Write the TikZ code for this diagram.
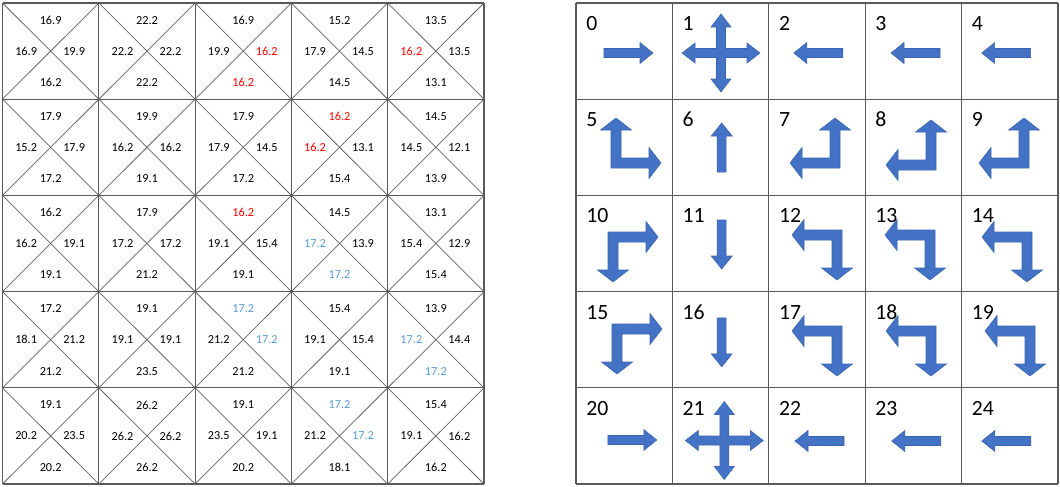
\documentclass[tikz,border=0pt]{standalone}
\usepackage{fontspec}
\setmainfont{Carlito}
\definecolor{arrfill}{HTML}{4472C4}
\definecolor{arrline}{HTML}{3A64B0}
\definecolor{lblue}{HTML}{5B9BD5}
\definecolor{gridc}{RGB}{90,90,90}
\definecolor{diagc}{RGB}{100,100,100}
\newcommand\rd[1]{\textcolor{red}{#1}}
\newcommand\bl[1]{\textcolor{lblue}{#1}}
\newcommand\bp[2]{({\bOx+(#1)*(\bax)+(#2)*(\bbx)},{\bOy+(#1)*(\bay)+(#2)*(\bby)})}
\newcommand\bentarr[6]{%
 \def\bOx{#1}\def\bOy{#2}\def\bax{#3}\def\bay{#4}\def\bbx{#5}\def\bby{#6}%
 \filldraw[arr] \bp{0}{0} -- \bp{38}{0} -- \bp{38}{-10.5} -- \bp{50}{5} -- \bp{38}{20.5} -- \bp{38}{10} -- \bp{10}{10} -- \bp{10}{38} -- \bp{20.5}{38} -- \bp{5}{50} -- \bp{-10.5}{38} -- \bp{0}{38} -- cycle;}
\newcommand\cv[6]{%
 \node[val] (t#1#2) at ({2.5+96.3*#2+48.15},{3+96.2*#1+48.1-31}) {#3};
 \node[val] (l#1#2) at ({2.5+96.3*#2+48.15-24.5},{3+96.2*#1+48.1}) {#4};
 \node[val] (r#1#2) at ({2.5+96.3*#2+48.15+23.5},{3+96.2*#1+48.1}) {#5};
 \node[val] (b#1#2) at ({2.5+96.3*#2+48.15},{3+96.2*#1+48.1+31.5}) {#6};}
\tikzset{
 arr/.style={fill=arrfill,draw=arrline,line width=0.4pt,line join=miter},
 gridl/.style={draw=gridc,line width=0.9pt},
 diag/.style={draw=diagc,line width=0.55pt},
 val/.style={inner sep=0pt,font=\fontsize{9.2}{11}\selectfont},
 lbl/.style={inner sep=0pt,anchor=base west,font=\fontsize{16.3}{18}\selectfont},
 sarrow/.pic={\filldraw[arr] (-24.5,-4.5) -- (11.5,-4.5) -- (11.5,-10.5) -- (24.5,0) -- (11.5,10.5) -- (11.5,4.5) -- (-24.5,4.5) -- cycle;},
 xarrow/.pic={\filldraw[arr] (4.5,4.5) -- (26,4.5) -- (26,10) -- (39,0) -- (26,-10) -- (26,-4.5) -- (4.5,-4.5) -- (4.5,-26) -- (10,-26) -- (0,-39) -- (-10,-26) -- (-4.5,-26) -- (-4.5,-4.5) -- (-26,-4.5) -- (-26,-10) -- (-39,0) -- (-26,10) -- (-26,4.5) -- (-4.5,4.5) -- (-4.5,26) -- (-10,26) -- (0,39) -- (10,26) -- (4.5,26) -- cycle;}
}
\begin{document}
\begin{tikzpicture}[x=0.75pt,y=-0.75pt]
\useasboundingbox (0,0) rectangle (1060,486);
\fill[white] (0,0) rectangle (1060,486);
% ---- left grid ----
\foreach \i in {0,...,4} \foreach \j in {0,...,4} {
 \draw[diag] ({2.5+96.3*\i},{3+96.2*\j}) -- ({2.5+96.3*(\i+1)},{3+96.2*(\j+1)});
 \draw[diag] ({2.5+96.3*(\i+1)},{3+96.2*\j}) -- ({2.5+96.3*\i},{3+96.2*(\j+1)});
}
\foreach \i in {0,...,5} {
 \draw[gridl] ({2.5+96.3*\i},3) -- ({2.5+96.3*\i},484);
 \draw[gridl] (2.5,{3+96.2*\i}) -- (484,{3+96.2*\i});
 \draw[gridl] ({576+96.4*\i},3) -- ({576+96.4*\i},484);
 \draw[gridl] (576,{3+96.2*\i}) -- (1058,{3+96.2*\i});
}
% row 0
\cv{0}{0}{16.9}{16.9}{19.9}{16.2}
\cv{0}{1}{22.2}{22.2}{22.2}{22.2}
\cv{0}{2}{16.9}{19.9}{\rd{16.2}}{\rd{16.2}}
\cv{0}{3}{15.2}{17.9}{14.5}{14.5}
\cv{0}{4}{13.5}{\rd{16.2}}{13.5}{13.1}
% row 1
\cv{1}{0}{17.9}{15.2}{17.9}{17.2}
\cv{1}{1}{19.9}{16.2}{16.2}{19.1}
\cv{1}{2}{17.9}{17.9}{14.5}{17.2}
\cv{1}{3}{\rd{16.2}}{\rd{16.2}}{13.1}{15.4}
\cv{1}{4}{14.5}{14.5}{12.1}{13.9}
% row 2
\cv{2}{0}{16.2}{16.2}{19.1}{19.1}
\cv{2}{1}{17.9}{17.2}{17.2}{21.2}
\cv{2}{2}{\rd{16.2}}{19.1}{15.4}{19.1}
\cv{2}{3}{14.5}{\bl{17.2}}{13.9}{\bl{17.2}}
\cv{2}{4}{13.1}{15.4}{12.9}{15.4}
% row 3
\cv{3}{0}{17.2}{18.1}{21.2}{21.2}
\cv{3}{1}{19.1}{19.1}{19.1}{23.5}
\cv{3}{2}{\bl{17.2}}{21.2}{\bl{17.2}}{21.2}
\cv{3}{3}{15.4}{19.1}{15.4}{19.1}
\cv{3}{4}{13.9}{\bl{17.2}}{14.4}{\bl{17.2}}
% row 4
\cv{4}{0}{19.1}{20.2}{23.5}{20.2}
\cv{4}{1}{26.2}{26.2}{26.2}{26.2}
\cv{4}{2}{19.1}{23.5}{19.1}{20.2}
\cv{4}{3}{\bl{17.2}}{21.2}{\bl{17.2}}{18.1}
\cv{4}{4}{15.4}{19.1}{16.2}{16.2}
% ---- right grid arrows ----
\pic at (628.5,53) {sarrow};
\pic at (721,53) {xarrow};
\pic[rotate=180] at (818.3,53) {sarrow};
\pic[rotate=180] at (915.5,53) {sarrow};
\pic[rotate=180] at (1006.2,53) {sarrow};
\bentarr{611}{168}{0}{-1}{1}{0}
\pic[rotate=90] at (721.7,147.5) {sarrow};
\bentarr{840}{168}{0}{-1}{-1}{0}
\bentarr{936}{170}{0}{-1}{-1}{0}
\bentarr{1029}{168}{0}{-1}{-1}{0}
\bentarr{608}{232}{1}{0}{0}{1}
\pic[rotate=-90] at (721.7,244.5) {sarrow};
\bentarr{842}{230}{-1}{0}{0}{1}
\bentarr{935}{230}{-1}{0}{0}{1}
\bentarr{1032}{232}{-1}{0}{0}{1}
\bentarr{612}{324}{1}{0}{0}{1}
\pic[rotate=-90] at (721.7,342.3) {sarrow};
\bentarr{842}{326}{-1}{0}{0}{1}
\bentarr{936}{326}{-1}{0}{0}{1}
\bentarr{1035}{326}{-1}{0}{0}{1}
\pic at (632.3,440) {sarrow};
\pic at (724.3,440.5) {xarrow};
\pic[rotate=180] at (819.5,441) {sarrow};
\pic[rotate=180] at (916.3,441) {sarrow};
\pic[rotate=180] at (1006.3,441) {sarrow};
% ---- right grid labels ----
\foreach \n in {0,...,24} {
 \pgfmathtruncatemacro\rr{int(\n/5)}
 \pgfmathtruncatemacro\cc{mod(\n,5)}
 \node[lbl] (n\n) at ({576+96.4*\cc+10},{3+96.2*\rr+27.5}) {\n};
}
\end{tikzpicture}
\end{document}
